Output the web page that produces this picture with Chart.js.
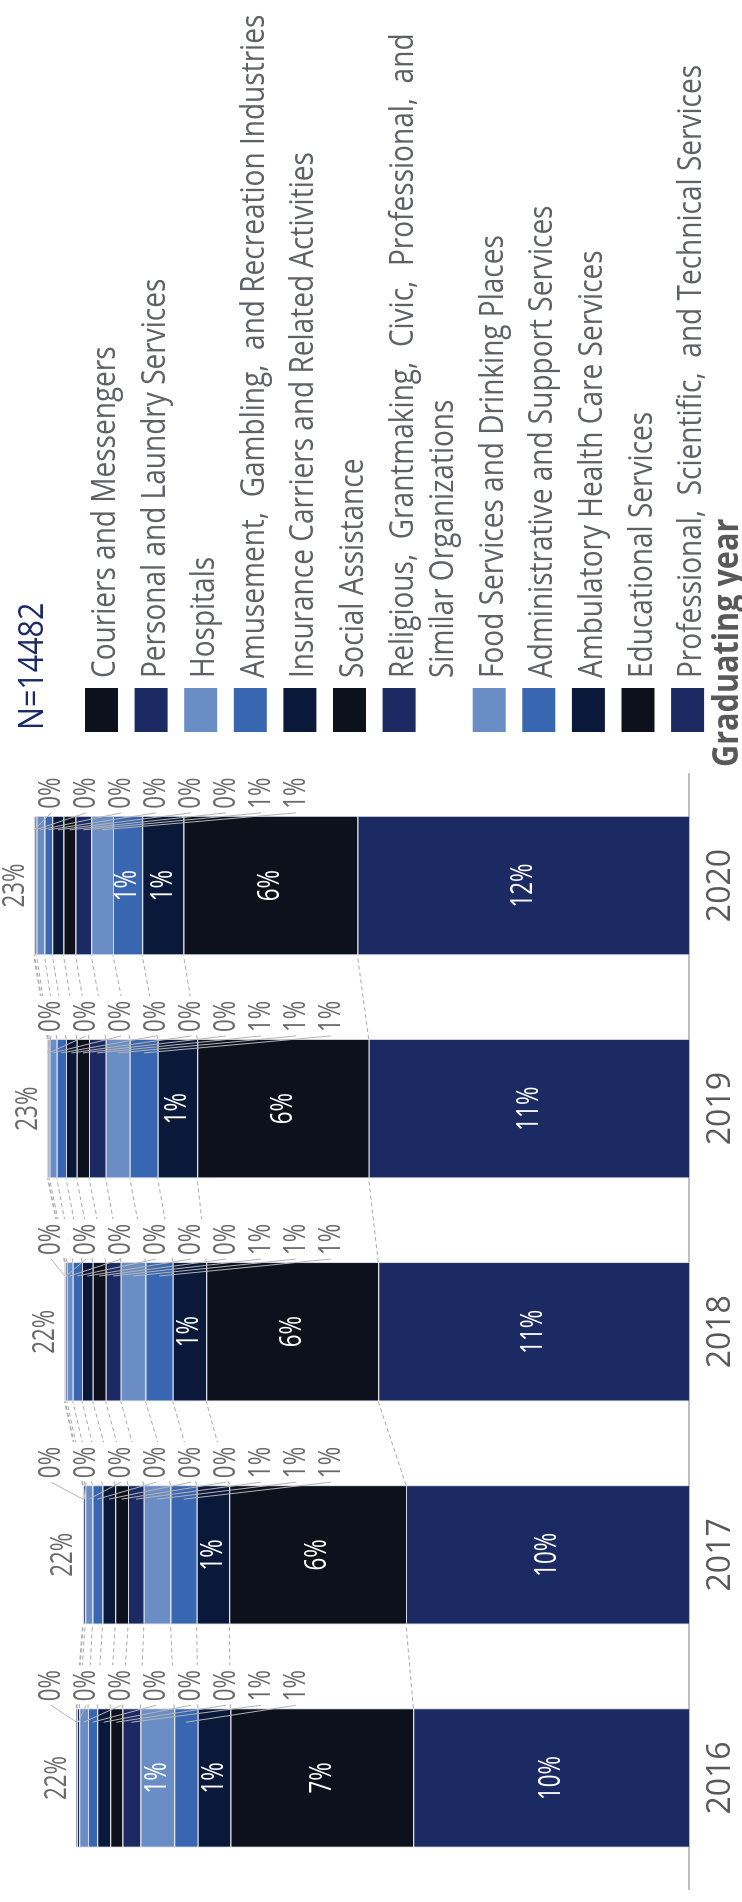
<!DOCTYPE html>
<html>
<head>
<meta charset="utf-8">
<script src="https://cdn.jsdelivr.net/npm/chart.js@4.4.0/dist/chart.umd.min.js"></script>
<style>
html, body { margin: 0; padding: 0; background: #fff; }
body { width: 742px; height: 1902px; overflow: hidden; position: relative; }
/* chart is laid out landscape and turned a quarter turn */
#wrap { position: absolute; left: 0; top: 0; width: 1902px; height: 742px;
        transform-origin: 0 0; transform: translateY(1902px) rotate(-90deg); }
</style>
</head>
<body>
<div id="wrap"><canvas id="chart" width="1902" height="742"></canvas></div>
<script>
// graduating years
const years = ['2016', '2017', '2018', '2019', '2020'];

// share of graduates (%) per industry, bottom of the stack first
const professional     = [9.81, 10.07, 11.06, 11.40, 11.80];
const educational      = [6.51, 6.29, 6.12, 6.10, 6.19];
const ambulatory       = [1.16, 1.16, 1.19, 1.41, 1.47];
const administrative   = [0.84, 0.93, 0.97, 0.99, 1.04];
const foodServices     = [1.20, 0.95, 0.88, 0.86, 0.77];
const religious        = [0.64, 0.56, 0.54, 0.59, 0.56];
const socialAssistance = [0.44, 0.46, 0.46, 0.44, 0.43];
const insurance        = [0.46, 0.45, 0.38, 0.38, 0.40];
const amusement        = [0.33, 0.36, 0.33, 0.33, 0.28];
const hospitals        = [0.31, 0.26, 0.21, 0.26, 0.28];
const personalLaundry  = [0.08, 0.07, 0.06, 0.05, 0.07];
const couriers         = [0.03, 0.02, 0.025, 0.02, 0.03];

const industryNames = [
    'Professional,  Scientific,  and Technical Services',
    'Educational Services',
    'Ambulatory Health Care Services',
    'Administrative and Support Services',
    'Food Services and Drinking Places',
    ['Religious,  Grantmaking,  Civic,  Professional,  and', 'Similar Organizations'],
    'Social Assistance',
    'Insurance Carriers and Related Activities',
    'Amusement,  Gambling,  and Recreation Industries',
    'Hospitals',
    'Personal and Laundry Services',
    'Couriers and Messengers'
];
const industryValues = [professional, educational, ambulatory, administrative, foodServices,
    religious, socialAssistance, insurance, amusement, hospitals, personalLaundry, couriers];

const legendTitle = 'N=14482';
const axisTitle = 'Graduating year';

const navy = '#1B2A62', black = '#0C111C', darkNavy = '#0A1939', midBlue = '#3966B0', lightBlue = '#6A8DC6';
const colors = [navy, black, darkNavy, midBlue, lightBlue, navy, black, darkNavy, midBlue, lightBlue, navy, black];

function condensedText(ctx, text, x, y, sx) {
    ctx.save();
    ctx.translate(x, y);
    ctx.scale(sx, 1);
    ctx.fillText(text, 0, 0);
    ctx.restore();
}

// percent labels, leader lines and series lines
const barLabels = {
    id: 'barLabels',
    afterDatasetsDraw(chart) {
        const ctx = chart.ctx;
        const sets = chart.data.datasets;
        const metas = sets.map((d, k) => chart.getDatasetMeta(k));
        const top = chart.chartArea.top;
        ctx.save();
        ctx.strokeStyle = '#a9a9a9';
        ctx.lineWidth = 1;
        ctx.setLineDash([4, 3]);
        metas.forEach(meta => {
            for (let i = 0; i < meta.data.length - 1; i++) {
                const a = meta.data[i], b = meta.data[i + 1];
                ctx.beginPath();
                ctx.moveTo(a.x + a.width / 2, a.y);
                ctx.lineTo(b.x - b.width / 2, b.y);
                ctx.stroke();
            }
        });
        ctx.setLineDash([]);
        ctx.font = '31px "Open Sans"';
        ctx.textBaseline = 'middle';
        years.forEach((yr, i) => {
            const bar = metas[0].data[i];
            const right = bar.x + bar.width / 2;
            let slot = 0;
            for (let k = sets.length - 1; k >= 0; k--) {
                const v = sets[k].data[i];
                const el = metas[k].data[i];
                const mid = (el.y + el.base) / 2;
                const txt = Math.round(v) + '%';
                if (v >= 1) {
                    ctx.fillStyle = '#ffffff';
                    ctx.textAlign = 'center';
                    condensedText(ctx, txt, el.x, mid, 0.72);
                } else {
                    const ly = top + 36.5 + slot * 35;
                    slot++;
                    ctx.fillStyle = '#ffffff';
                    ctx.fillRect(right + 5, ly - 17.5, 38, 35);
                    ctx.strokeStyle = '#b4b4b4';
                    ctx.beginPath();
                    ctx.moveTo(right + 3, ly);
                    ctx.lineTo(right - 14, mid);
                    ctx.stroke();
                    ctx.fillStyle = '#6a6a6a';
                    ctx.textAlign = 'left';
                    condensedText(ctx, txt, right + 7, ly, 0.72);
                }
            }
            const topEl = metas[sets.length - 1].data[i];
            const total = sets.reduce((s, d) => s + d.data[i], 0);
            ctx.fillStyle = '#6a6a6a';
            ctx.textAlign = 'center';
            condensedText(ctx, Math.round(total) + '%', topEl.x, topEl.y - 19, 0.72);
        });
        ctx.restore();
    }
};

// legend on the right, top series first
const sideLegend = {
    id: 'sideLegend',
    afterDraw(chart) {
        const ctx = chart.ctx;
        const sets = chart.data.datasets;
        const x0 = chart.chartArea.right;
        ctx.save();
        ctx.textBaseline = 'alphabetic';
        ctx.textAlign = 'left';
        ctx.fillStyle = '#1B2A66';
        ctx.font = '35px "Open Sans"';
        condensedText(ctx, legendTitle, x0 + 44, 43, 0.87);
        ctx.font = '32px "Open Sans"';
        let base = 115;
        for (let k = sets.length - 1; k >= 0; k--) {
            const lines = [].concat(sets[k].label);
            ctx.fillStyle = sets[k].backgroundColor;
            ctx.fillRect(x0 + 42, base - 30, 44, 33);
            ctx.fillStyle = '#5F6166';
            lines.forEach((line, j) => condensedText(ctx, line, x0 + 96, base + j * 40.5, 0.876));
            base += 49.6 + (lines.length - 1) * 40.5;
        }
        ctx.font = 'bold 36px "Open Sans"';
        ctx.fillStyle = '#595959';
        condensedText(ctx, axisTitle, x0 + 7, 738, 0.85);
        ctx.restore();
    }
};

function drawChart() {
    const ctx = document.getElementById('chart').getContext('2d');
    new Chart(ctx, {
        type: 'bar',
        data: {
            labels: years,
            datasets: industryValues.map((vals, k) => ({
                label: industryNames[k],
                data: vals,
                backgroundColor: colors[k],
                borderColor: 'rgba(185, 192, 208, 0.6)',
                borderWidth: 1,
                barPercentage: 0.625,
                categoryPercentage: 1
            }))
        },
        options: {
            responsive: false,
            animation: false,
            devicePixelRatio: 1,
            layout: { padding: { left: 12.5, right: 774, top: 14.6, bottom: 0 } },
            plugins: { legend: { display: false }, tooltip: { enabled: false } },
            scales: {
                x: {
                    stacked: true,
                    grid: { display: false, drawTicks: false },
                    border: { display: true, color: '#BFBFBF', width: 2 },
                    ticks: { color: '#595959', padding: 13, font: { family: 'Open Sans', size: 32 } },
                    afterFit: scale => { scale.height = 53; }
                },
                y: {
                    stacked: true,
                    display: false,
                    min: 0,
                    max: 24
                }
            }
        },
        plugins: [barLabels, sideLegend]
    });
}

document.fonts.load('32px "Open Sans"').then(drawChart, drawChart);
</script>
</body>
</html>
